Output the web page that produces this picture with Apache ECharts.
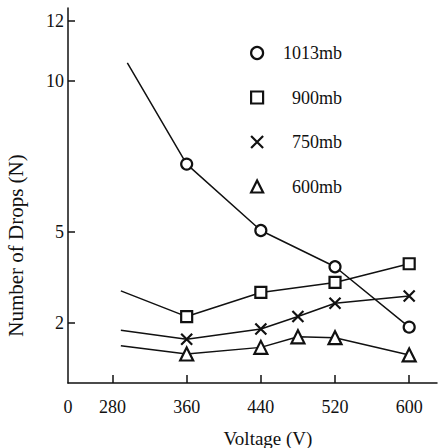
<!DOCTYPE html>
<html><head><meta charset="utf-8">
<script src="https://cdn.jsdelivr.net/npm/echarts@6/dist/echarts.min.js"></script>
<style>html,body{margin:0;padding:0;background:#fff}#c{width:443px;height:448px}</style>
</head><body><div id="c"></div>
<script>
// ---- data ----
const seriesNames = ['1013mb', '900mb', '750mb', '600mb'];
const v1013 = [296, 360, 440, 520, 600];
const n1013 = [10.6, 7.25, 5.05, 3.85, 1.85];
const v900 = [289, 360, 440, 520, 600];
const n900 = [3.05, 2.2, 3.0, 3.33, 3.95];
const v750 = [289, 360, 440, 480, 520, 600];
const n750 = [1.75, 1.45, 1.79, 2.2, 2.64, 2.88];
const v600 = [289, 360, 440, 480, 520, 600];
const n600 = [1.23, 0.96, 1.18, 1.53, 1.5, 0.93];
const xTickValues = [280, 360, 440, 520, 600];
const xLabelValues = [232, 280, 360, 440, 520, 600];
const xLabelTexts = ['0', '280', '360', '440', '520', '600'];
const yTickValues = [2, 5, 10, 12];
const yLabelTexts = ['2', '5', '10', '12'];

const FONT = 'Liberation Serif';
const INK = '#111';
const xPath = 'path://M0,0L10,10M10,0L0,10';
const symbols = ['circle', 'rect', xPath, 'triangle'];
const sizes = [11, 11, 11, 13];
const rt = (size) => ({ t: { fontSize: size, fontFamily: FONT, color: INK } });

function mk(idx, vs, ns) {
  return {
    name: seriesNames[idx], type: 'line',
    symbol: symbols[idx], symbolSize: sizes[idx],
    data: vs.map((v, i) => i === 0 ? { value: [v, ns[i]], symbol: 'none' } : [v, ns[i]]),
    lineStyle: { color: INK, width: 1.5 },
    itemStyle: { color: '#fff', borderColor: INK, borderWidth: 2.2 },
    emphasis: { disabled: true }, silent: true
  };
}

const chart = echarts.init(document.getElementById('c'), null, { renderer: 'svg' });
chart.setOption({
  animation: false,
  backgroundColor: '#fff',
  textStyle: { fontFamily: FONT },
  grid: { left: 68, right: 6, top: 8, bottom: 65, containLabel: false, outerBoundsMode: 'none' },
  xAxis: {
    type: 'value', min: 232, max: 630,
    axisLine: { show: true, lineStyle: { color: INK, width: 1.5 } },
    axisTick: { show: true, inside: true, length: 8, customValues: xTickValues, lineStyle: { color: INK, width: 1.5 } },
    axisLabel: {
      customValues: xLabelValues,
      formatter: v => '{t|' + xLabelTexts[xLabelValues.indexOf(v)] + '}',
      margin: 15, fontSize: 18, fontFamily: FONT, color: INK, rich: rt(18)
    },
    splitLine: { show: false },
    name: '{t|Voltage (V)}', nameLocation: 'middle', nameGap: 46,
    nameTextStyle: { fontSize: 19, fontFamily: FONT, color: INK, padding: [0, 0, 0, 31], rich: rt(19) }
  },
  yAxis: {
    type: 'value', min: 0, max: 12.42,
    axisLine: { show: true, lineStyle: { color: INK, width: 1.5 } },
    axisTick: { show: true, inside: true, length: 7, customValues: yTickValues, lineStyle: { color: INK, width: 1.5 } },
    axisLabel: {
      customValues: yTickValues,
      formatter: v => '{t|' + yLabelTexts[yTickValues.indexOf(v)] + '}',
      margin: 4, fontSize: 18, fontFamily: FONT, color: INK, rich: rt(18)
    },
    splitLine: { show: false },
    name: '{t|Number of Drops (N)}', nameLocation: 'middle', nameGap: 42,
    nameTextStyle: { fontSize: 21, fontFamily: FONT, color: INK, padding: [0, 100, 0, 0], rich: rt(21) }
  },
  legend: {
    orient: 'vertical', left: 245, top: 39,
    itemWidth: 12, itemHeight: 12, itemGap: 26.5,
    selectedMode: false,
    data: seriesNames.map((n, i) => ({ name: n, icon: symbols[i] })),
    itemStyle: { borderWidth: 2.2, borderColor: INK, color: '#fff' },
    formatter: '{a|{name}}',
    textStyle: { rich: { a: { width: 74, align: 'right', fontSize: 18, fontFamily: FONT, color: INK, lineHeight: 14 } } }
  },
  series: [mk(0, v1013, n1013), mk(1, v900, n900), mk(2, v750, n750), mk(3, v600, n600)]
});
</script></body></html>
